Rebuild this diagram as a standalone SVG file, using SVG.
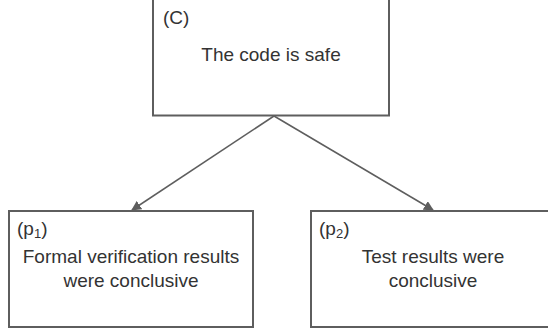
<svg xmlns="http://www.w3.org/2000/svg" width="548" height="333" viewBox="0 0 548 333">
<style>
.box{fill:#ffffff;stroke:#5e5e5e;stroke-width:2}
.t{font-family:"Liberation Sans",Arial,sans-serif;font-size:19px;fill:#333333}
.c{text-anchor:middle}
.sub{font-size:13px}
.edge{fill:none;stroke:#5e5e5e;stroke-width:1.5}
</style>
<defs>
<marker id="ah" viewBox="0 0 10 10" refX="9" refY="5" markerWidth="10" markerHeight="10" markerUnits="userSpaceOnUse" orient="auto">
<path d="M0,0 L10,5 L0,10 z" fill="#5e5e5e"/>
</marker>
</defs>
<rect width="548" height="333" fill="#ffffff"/>
<g id="edges">
<line class="edge" x1="274" y1="116" x2="132" y2="210" marker-end="url(#ah)"/>
<line class="edge" x1="274" y1="116" x2="433" y2="210" marker-end="url(#ah)"/>
</g>
<g id="nodeC">
<rect class="box" x="153" y="-2" width="236" height="117.5"/>
<text class="t" x="163" y="24">(C)</text>
<text class="t c" x="271" y="61">The code is safe</text>
</g>
<g id="nodeP1">
<rect class="box" x="9" y="211" width="244" height="116"/>
<text class="t" x="17" y="235">(p<tspan class="sub" dy="3">1</tspan><tspan dy="-3">)</tspan></text>
<text class="t c" x="131" y="263">Formal verification results</text>
<text class="t c" x="131" y="287">were conclusive</text>
</g>
<g id="nodeP2">
<rect class="box" x="311" y="211" width="246" height="116"/>
<text class="t" x="319" y="235">(p<tspan class="sub" dy="3">2</tspan><tspan dy="-3">)</tspan></text>
<text class="t c" x="433" y="263">Test results were</text>
<text class="t c" x="433" y="287">conclusive</text>
</g>
</svg>
